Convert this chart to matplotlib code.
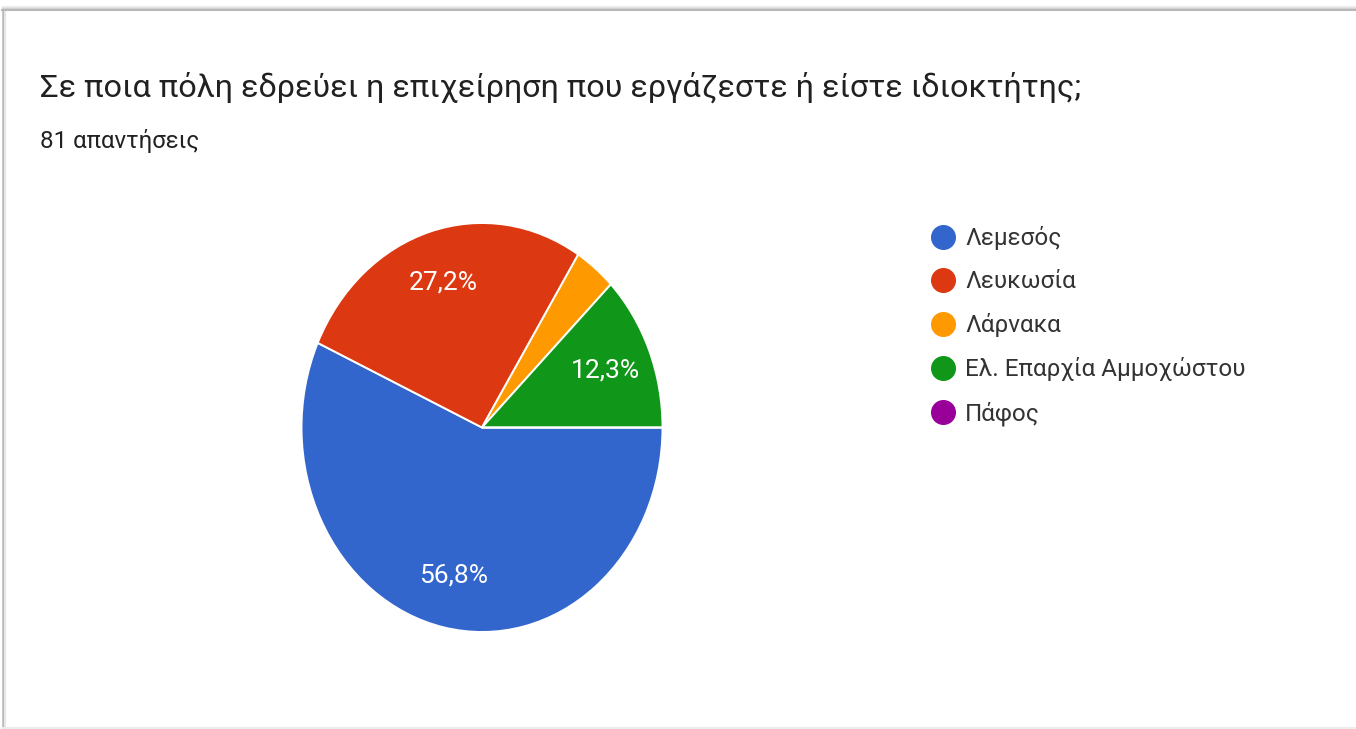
import matplotlib
matplotlib.use("Agg")
import matplotlib.pyplot as plt
from matplotlib.lines import Line2D

plt.rcParams['font.family'] = ['Roboto', 'DejaVu Sans']

# Survey data
title = "Σε ποια πόλη εδρεύει η επιχείρηση που εργάζεστε ή είστε ιδιοκτήτης;"
subtitle = "81 απαντήσεις"
cities = ["Λεμεσός", "Λευκωσία", "Λάρνακα", "Ελ. Επαρχία Αμμοχώστου", "Πάφος"]
counts = [46, 22, 3, 10, 0]
colors = ["#3366CC", "#DC3912", "#FF9900", "#109618", "#990099"]

W, H = 1356, 729
fig = plt.figure(figsize=(W / 100, H / 100), dpi=100)
fig.patch.set_facecolor("white")


def fx(px):
    return px / W


def fy(py):
    return 1 - py / H


# card frame: top border with soft shadow, left border, faint bottom line
for i, a in enumerate([0.05, 0.08, 0.12, 0.18]):
    fig.add_artist(Line2D([fx(2), 1], [fy(6 + i), fy(6 + i)], color="black", alpha=a, lw=1))
fig.add_artist(Line2D([fx(2), 1], [fy(10), fy(10)], color="#b8b8b8", lw=1.5))
fig.add_artist(Line2D([fx(2.5), fx(2.5)], [fy(10), 0], color="#b8b8b8", lw=1.8))
fig.add_artist(Line2D([fx(5), fx(5)], [fy(12), 0], color="#e6e6e6", lw=1.5))
fig.add_artist(Line2D([fx(2), 1], [fy(727.5), fy(727.5)], color="#ececec", lw=1.5))

fig.text(fx(40), fy(97), title, fontsize=23.3, color="#212121", va="baseline", ha="left")
fig.text(fx(40), fy(148), subtitle, fontsize=17.3, color="#212121", va="baseline", ha="left")

# pie axes (slightly taller than wide)
left, right, top, bottom = 301.5, 662.5, 223, 632
ax = fig.add_axes([fx(left), fy(bottom), fx(right - left), (bottom - top) / H])


def pct_label(p):
    if p < 5:
        return ""
    return f"{p:.1f}%".replace(".", ",")


wedges, _, autotexts = ax.pie(
    counts, colors=colors, startangle=0, counterclock=False, radius=1,
    autopct=pct_label, pctdistance=0.74,
    wedgeprops=dict(edgecolor="white", linewidth=1.4),
    textprops=dict(color="white", fontsize=19),
)
ax.set_aspect("auto")
ax.set_xlim(-1, 1)
ax.set_ylim(-1, 1)
ax.axis("off")

handles = [Line2D([0], [0], marker="o", linestyle="none", markersize=17,
                  markerfacecolor=c, markeredgecolor=c) for c in colors]
fig.legend(handles, cities, loc="upper left", bbox_to_anchor=(fx(931), fy(226.5)),
           frameon=False, fontsize=17.5, labelcolor="#333333",
           handlelength=1.0, handletextpad=0.4, labelspacing=0.82,
           borderpad=0, borderaxespad=0)

fig.savefig("out.png", dpi=100, facecolor="white")
